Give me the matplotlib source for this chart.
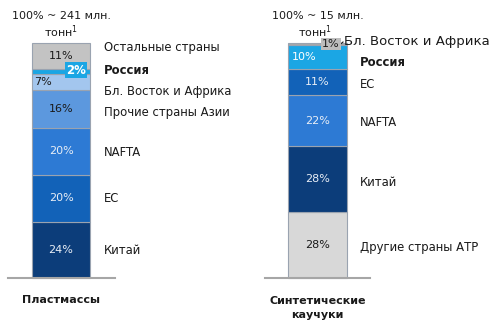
import matplotlib
matplotlib.use('Agg')
import matplotlib.pyplot as plt
import numpy as np

plt.rcParams['font.family'] = ['DejaVu Sans']

# данные
plast_regions = ['Китай', 'ЕС', 'NAFTA', 'Прочие страны Азии', 'Бл. Восток и Африка', 'Россия', 'Остальные страны']
plast_vals = [24, 20, 20, 16, 7, 2, 11]
plast_colors = ['#0c3d7a', '#1262b8', '#2d7ad4', '#5c98de', '#a3c6ee', '#1ba6e4', '#c3c3c3']
rubber_regions = ['Другие страны АТР', 'Китай', 'NAFTA', 'ЕС', 'Россия', 'Бл. Восток и Африка']
rubber_vals = [28, 28, 22, 11, 10, 1]
rubber_colors = ['#d8d8d8', '#0c3d7a', '#2d7ad4', '#1262b8', '#1ba6e4', '#a8a8a8']
totals = ['100% ~ 241 млн.', '100% ~ 15 млн.']
categories = ['Пластмассы', 'Синтетические\nкаучуки']

W, H = 497, 326
fig = plt.figure(figsize=(W / 100, H / 100), dpi=100)
ax = fig.add_axes([0, 0, 1, 1])
ppp = 2.35  # пикселей на 1%
base = 278
ax.set_xlim(0, W)
ax.set_ylim(-(H - base) / ppp, base / ppp)
ax.axis('off')

def py(p):
    # пиксель по вертикали -> проценты
    return (base - p) / ppp

txt = '#1a1a1a'
fs = 8
fs_lab = 8.4

def stack(x, w, vals, colors):
    bottoms = np.concatenate([[0], np.cumsum(vals)[:-1]])
    ax.bar(x, vals, width=w, bottom=bottoms, color=colors, edgecolor='#9aa3b0', linewidth=0.8)
    return bottoms

# Пластмассы
xl, wl = 61, 58
b1 = stack(xl, wl, plast_vals, plast_colors)
ax.plot([8, 115], [0, 0], color='#a6a6a6', lw=1.5)
in_col = ['#e8eef6', '#e8eef6', '#e8eef6', txt, txt, None, txt]
for i, v in enumerate(plast_vals):
    c = b1[i] + v / 2
    if i == 5:
        continue
    xx = 43 if i == 4 else xl
    ax.text(xx, c, f'{v}%', ha='center', va='center', fontsize=fs, color=in_col[i])
ax.text(76, py(70), '2%', ha='center', va='center', fontsize=fs + 0.5, color='white', fontweight='bold',
        bbox=dict(boxstyle='square,pad=0.12', fc='#1ba6e4', ec='none'))
lab_y = [251, 199, 152, 112, 91, 70, 48]
for i, name in enumerate(plast_regions):
    ax.text(104, py(lab_y[i]), name, ha='left', va='center', fontsize=fs_lab, color=txt,
            fontweight='bold' if name == 'Россия' else 'normal')
ax.text(xl, py(16), totals[0], ha='center', va='center', fontsize=fs, color=txt)
ax.text(xl, py(32), 'тонн$^1$', ha='center', va='center', fontsize=fs, color=txt)
ax.text(xl, py(300), categories[0], ha='center', va='center', fontsize=fs, color=txt, fontweight='bold')

# Синтетические каучуки
xr, wr = 317.5, 59
b2 = stack(xr, wr, rubber_vals, rubber_colors)
ax.plot([265, 370], [0, 0], color='#a6a6a6', lw=1.5)
in_col2 = [txt, '#e8eef6', '#e8eef6', '#e8eef6', 'white', None]
for i, v in enumerate(rubber_vals):
    c = b2[i] + v / 2
    if i == 5:
        continue
    xx = 304 if i == 4 else xr
    ax.text(xx, c, f'{v}%', ha='center', va='center', fontsize=fs, color=in_col2[i])
ax.text(331, py(44), '1%', ha='center', va='center', fontsize=fs, color=txt,
        bbox=dict(boxstyle='square,pad=0.12', fc='#bdbdbd', ec='none'))
ax.plot([337, 343], [py(47), py(42)], color=txt, lw=0.8)
lab_y2 = [248, 182, 123, 84, 62, 42]
for i, name in enumerate(rubber_regions):
    lx = 344 if i == 5 else 360
    ax.text(lx, py(lab_y2[i]), name, ha='left', va='center', fontsize=9.5 if i == 5 else fs_lab, color=txt,
            fontweight='bold' if name == 'Россия' else 'normal')
ax.text(xr, py(16), totals[1], ha='center', va='center', fontsize=fs, color=txt)
ax.text(xr - 2, py(32), 'тонн$^1$', ha='center', va='center', fontsize=fs, color=txt)
ax.text(xr, py(308), categories[1], ha='center', va='center', fontsize=fs, color=txt,
        fontweight='bold', linespacing=1.4)

fig.savefig('out.png', dpi=100)
